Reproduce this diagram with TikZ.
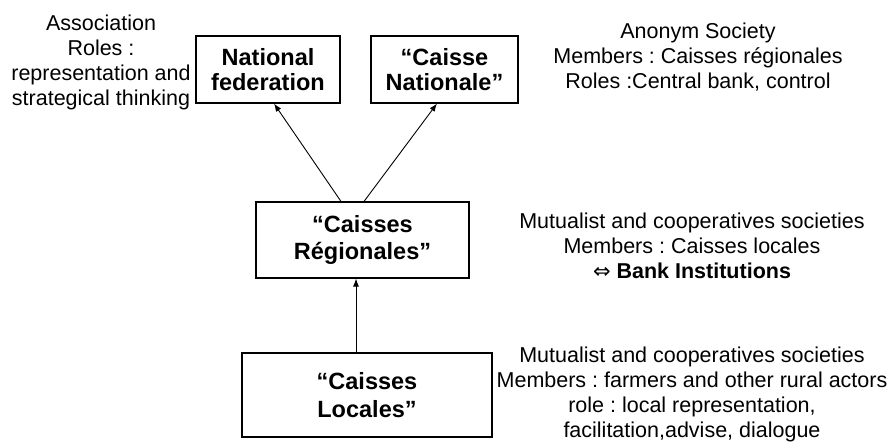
\documentclass[tikz,border=0pt]{standalone}
\usepackage{fontspec}
\setmainfont{Liberation Sans}
\newfontfamily\symfont{DejaVu Sans}
\usetikzlibrary{arrows.meta}
\frenchspacing

\begin{document}
\begin{tikzpicture}[x=1pt, y=-1pt,
    inst/.style={draw, line width=1.1pt, align=center, inner sep=0pt,
                 font=\fontsize{23.5}{25}\selectfont\bfseries},
    note/.style={align=center, inner sep=0pt, font=\fontsize{21.5}{25}\selectfont},
    link/.style={-{Latex[length=8pt,width=6pt]}, line width=0.9pt}]
        \useasboundingbox (0,0) rectangle (891,443);
        \node [inst, minimum width=144pt, minimum height=67pt] (natfed) at (268,69.5) {National\\federation};
        \node [inst, minimum width=147pt, minimum height=67pt] (natcaisse) at (444.5,69.5) {“Caisse\\Nationale”};
        \node [inst, minimum width=213pt, minimum height=76pt, font=\fontsize{23.5}{27}\selectfont\bfseries] (regional) at (362.5,240) {“Caisses\\Régionales”};
        \node [inst, minimum width=250pt, minimum height=84pt, font=\fontsize{23.5}{28}\selectfont\bfseries] (local) at (367,395) {“Caisses\\Locales”};
        \draw [link] ([xshift=-21.5pt]regional.north) -- ([xshift=6pt]natfed.south);
        \draw [link] ([xshift=1.5pt]regional.north) -- ([xshift=-7.5pt]natcaisse.south);
        \draw [link] ([xshift=-11pt]local.north) -- ([xshift=-11pt]local.north |- regional.south);
        \path (101,62.5) node [note] (assoc) {Association\\Roles :\\representation and\\strategical thinking}
              (698,57.5) node [note] (anonym) {Anonym Society\\Members : Caisses régionales\\Roles :Central bank, control}
              (692,246) node [note] (mutreg) {Mutualist and cooperatives societies\\Members : Caisses locales\\{\symfont\fontsize{21}{25}\selectfont ⇔} \textbf{Bank Institutions}}
              (692,394) node [note] (mutloc) {Mutualist and cooperatives societies\\Members : farmers and other rural actors\\role : local representation,\\facilitation,advise, dialogue};
    \end{tikzpicture}
\end{document}
